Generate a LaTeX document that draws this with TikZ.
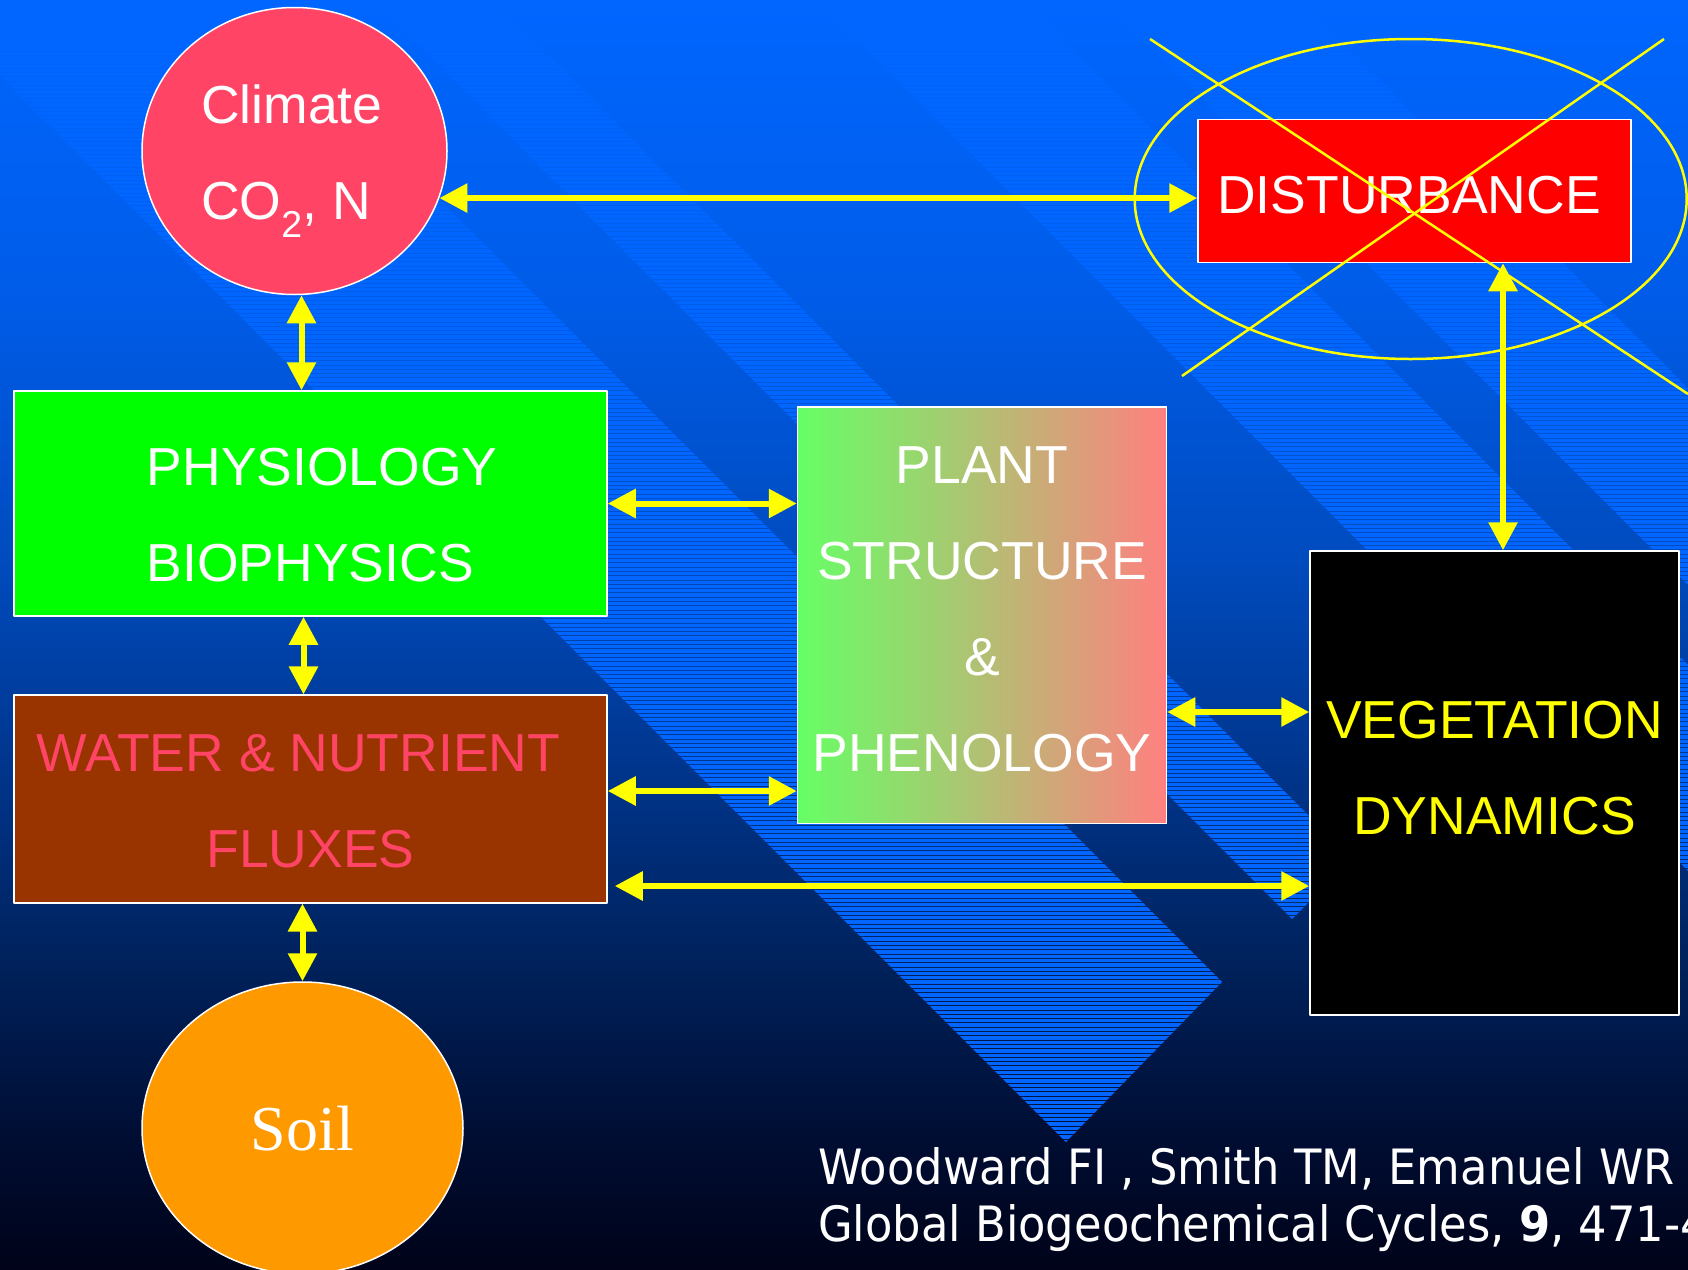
\documentclass[tikz,border=0pt]{standalone}
\usepackage{fontspec}
\setmainfont{Liberation Sans}
\newfontfamily\soilfont{Liberation Serif}
\newfontfamily\citefont[FakeStretch=0.92]{DejaVu Sans}
\usetikzlibrary{arrows.meta,shapes.geometric}
\definecolor{bgA}{RGB}{0,102,255}
\definecolor{bgB}{RGB}{0,92,232}
\definecolor{bgC}{RGB}{0,75,190}
\definecolor{bgD}{RGB}{0,55,145}
\definecolor{bgE}{RGB}{0,35,95}
\definecolor{bgF}{RGB}{0,12,48}
\definecolor{bgG}{RGB}{0,3,25}
\definecolor{bandblue}{RGB}{0,102,255}
\definecolor{climpink}{RGB}{255,68,102}
\definecolor{waterbrown}{RGB}{153,51,0}
\definecolor{plantgreen}{RGB}{102,255,102}
\definecolor{plantred}{RGB}{255,128,128}
\definecolor{soilorange}{RGB}{255,153,0}
\definecolor{arrowyellow}{RGB}{255,255,0}
\newcommand\bandstripes[1]{\foreach \y in {0,4.3,...,#1} \fill[bandblue] (0,\y) rectangle (1688,\y+3.3);}
\tikzset{
  box/.style={rectangle, draw=white, line width=1.5pt, inner sep=0pt},
  blob/.style={ellipse, draw=white, line width=1.5pt, inner sep=0pt},
  lbl/.style={white, inner sep=0pt, align=center, font=\fontsize{53.5}{96}\selectfont},
  arr/.style={<->, arrowyellow, line width=6pt},
  cross/.style={arrowyellow, line width=2.5pt},
  cite/.style={white, inner sep=0pt, anchor=base west, font=\citefont\fontsize{48.7}{57}\selectfont}
}
\begin{document}
\begin{tikzpicture}[x=1pt, y=-1pt, line join=round, >={Triangle[length=28pt,width=28pt]}]
\useasboundingbox (0,0) rectangle (1688,1269);
\foreach \ya/\yb/\ca/\cb in {0/300/bgA/bgB, 299/560/bgB/bgC, 559/750/bgC/bgD, 749/950/bgD/bgE, 949/1150/bgE/bgF, 1149/1269/bgF/bgG}
  \shade[top color=\ca, bottom color=\cb] (0,\ya) rectangle (1688,\yb);
\begin{scope}\clip (0,0)--(240,0)--(1222,982)--(1066,1142)--(0,76)--cycle; \bandstripes{1145}\end{scope}
\begin{scope}\clip (373,0)--(493,0)--(1352,859)--(1292,919)--cycle; \bandstripes{922}\end{scope}
\begin{scope}\clip (817,0)--(1023,0)--(1688,665)--(1688,871)--cycle; \bandstripes{875}\end{scope}
\begin{scope}\clip (1103,0)--(1300,0)--(1688,388)--(1688,585)--cycle; \bandstripes{590}\end{scope}

\node[blob, fill=climpink, minimum width=305, minimum height=287] (clim) at (294.5,151) {};
\node[box, fill=green, minimum width=593, minimum height=225] (phys) at (310.5,503.5) {};
\node[box, fill=waterbrown, minimum width=593, minimum height=207.6] (water) at (310.5,799) {};
\node[box, left color=plantgreen, right color=plantred, minimum width=369, minimum height=416.5] (plant) at (982,615) {};
\node[box, fill=red, minimum width=433, minimum height=143] (dist) at (1414.5,191) {};
\node[box, fill=black, minimum width=369, minimum height=464] (veg) at (1494.5,783) {};
\node[blob, fill=soilorange, minimum width=321, minimum height=292] (soil) at (302.5,1128) {};

\node[lbl, anchor=north west, align=left] (climT) at (201,84.6) {Climate\\CO\textsubscript{2}, N};
\node[lbl, anchor=north west, align=left] (physT) at (146.5,447.7) {PHYSIOLOGY\\BIOPHYSICS};
\node[lbl, anchor=north, text=climpink] (waterT) at (310.5,733.9) {WATER \& NUTRIENT\rule{24pt}{0pt}\\FLUXES};
\node[lbl, anchor=north] (plantT) at (982,446) {PLANT\\STRUCTURE\\\&\\PHENOLOGY};
\node[lbl, anchor=base] (distT) at (1409,213) {DISTURBANCE};
\node[lbl, anchor=north, text=arrowyellow] (vegT) at (1494.5,701) {VEGETATION\\DYNAMICS};
\node[anchor=base, white, inner sep=0pt, font=\soilfont\fontsize{64}{70}\selectfont] (soilT) at (302.5,1150.5) {Soil};

\draw[cross] (1410.7,199) ellipse [x radius=276, y radius=160];
\draw[cross] (1150,39) -- (1688,394);
\draw[cross] (1664,39) -- (1182,376);

\coordinate (a0) at (clim.-18);
\coordinate (a1) at ([xshift=7pt]clim.south);
\coordinate (a2) at ([xshift=-7pt]phys.south);
\coordinate (a3) at ([yshift=8pt]water.east);
\coordinate (a4) at ([xshift=7pt,yshift=-87pt]water.east);
\coordinate (a5) at ([yshift=-97pt]plant.east);
\coordinate (a6) at ([xshift=8.5pt]veg.north);
\draw[arr] (a0) -- (a0 -| dist.west);
\draw[arr] (a1) -- (a1 |- phys.north);
\draw[arr] (phys.east) -- (phys.east -| plant.west);
\draw[arr] (a2) -- (a2 |- water.north);
\draw[arr] (a3) -- (a3 -| plant.west);
\draw[arr] (a4) -- (a4 -| veg.west);
\draw[arr] (a5) -- (a5 -| veg.west);
\draw[arr] (a6) -- (a6 |- dist.south);
\draw[arr] (soil.north) -- (soil.north |- water.south);

\node[cite] (citeA) at (818,1184) {Woodward FI , Smith TM, Emanuel WR};
\node[cite] (citeB) at (818,1241) {Global Biogeochemical Cycles, \textbf{9}, 471-49};
\end{tikzpicture}
\end{document}
